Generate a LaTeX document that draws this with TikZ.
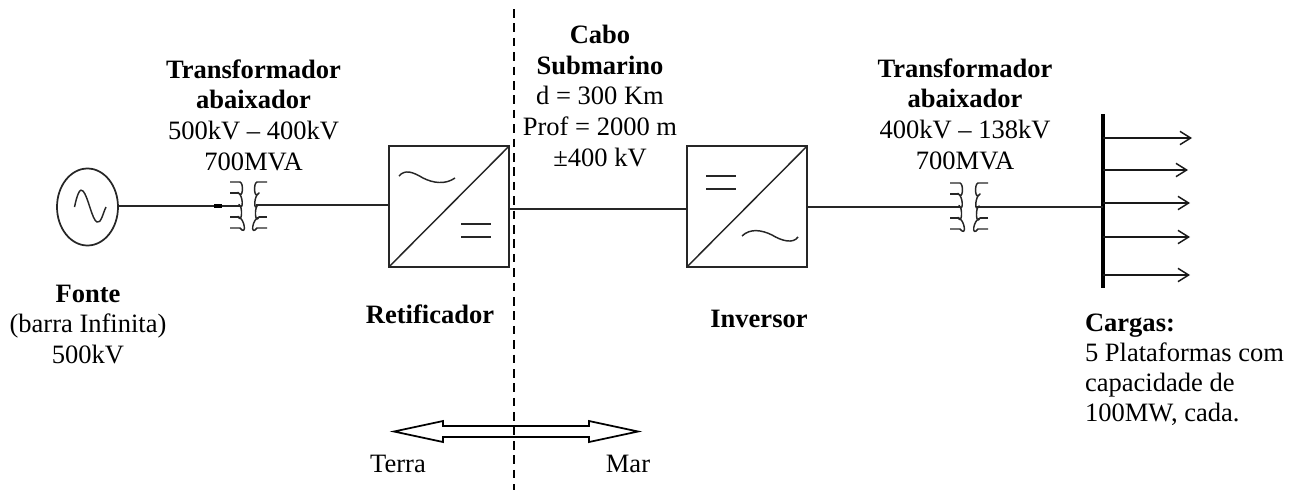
\documentclass[tikz,border=0pt]{standalone}
\usepackage{fontspec}
\setmainfont{Liberation Serif}
\usetikzlibrary{arrows.meta,shapes.geometric}
\tikzset{
  x=0.75pt,y=-0.75pt,
  wire/.style={line width=1.5pt,black!85},
  conv/.style={draw=black!85,line width=1.5pt,minimum width=90pt,minimum height=90.5pt,inner sep=0pt,outer sep=0pt},
  src/.style={draw=black!85,ellipse,line width=1.3pt,minimum width=45.75pt,minimum height=57.75pt,inner sep=0pt,outer sep=0pt},
  lbl/.style={inner sep=0pt,outer sep=0pt,align=center,font=\fontsize{19.9}{23}\selectfont,anchor=base},
  lbll/.style={inner sep=0pt,outer sep=0pt,align=left,font=\fontsize{19.9}{23}\selectfont,anchor=base west},
  load/.style={line width=1.2pt,black!90,-{Straight Barb[length=8pt,width=10pt,line width=1.1pt]}},
  sym/.style={line width=1.1pt,black!85},
  stub/.style={line width=1.5pt,black!85},
}
% primary winding: #1 = outer x, #2 = top y; bulges to the right
\newcommand{\coilL}[2]{%
  \draw[sym,line join=round] (#1,#2) -- ++(10,0)
    .. controls +(4,1) and +(5,8) .. ++(-2,10.5)
    .. controls +(5,2) and +(5,8) .. ++(1,12)
    .. controls +(4,2) and +(4,8) .. ++(-1,12)
    .. controls +(7,2) and +(7,9) .. ++(2,11.5) -- ++(-10,0);
  \draw[stub] (#1,#2+10.5) -- ++(8,0);
  \draw[stub] (#1,#2+34.5) -- ++(8,0);}
% secondary winding: #1 = outer x, #2 = top y; bulges to the left
\newcommand{\coilR}[2]{%
  \draw[sym,line join=round] (#1,#2) -- ++(-10,0)
    .. controls +(-4,1) and +(-5,8) .. ++(2,11)
    .. controls +(-5,2) and +(-5,8) .. ++(-1,12)
    .. controls +(-4,2) and +(-4,8) .. ++(1,12)
    .. controls +(-7,2) and +(-7,9) .. ++(-2,11) -- ++(10,0);
  \draw[stub] (#1,#2+35) -- ++(-8,0);}
\begin{document}
\begin{tikzpicture}
\useasboundingbox (0,0) rectangle (1302,490);
% dashed divider
\coordinate (dtop) at (514,9);
\coordinate (dbot) at (514,490);
\draw[line width=1.5pt,black,dash pattern=on 6.5pt off 4.3pt] (dtop) -- (dbot);
% source
\node[src] (fonte) at (87.5,207) {};
\draw[sym,line join=round] (74.5,207) .. controls (77,195) and (80,187) .. (83,191) .. controls (88,196) and (92,220) .. (97,222) .. controls (101,224) and (103,213) .. (106,207);
% transformer 1
\coordinate (t1in) at (240,206);
\coordinate (t1out) at (256,205);
\coordinate (t1a) at (214,206);
\coordinate (t1b) at (222,206);
\coilL{230}{182}
\coilR{267}{182}
% converters
\node[conv] (ret) at (449,206.5) {};
\node[conv] (inv) at (747,206.5) {};
\draw[sym] (ret.south west) -- (ret.north east);
\draw[sym] (inv.south west) -- (inv.north east);
\draw[sym] (399,176) .. controls (405,169) and (413,172) .. (423,178) .. controls (433,183) and (445,185) .. (455,178);
\draw[sym] (461,224) -- (491,224) (461,237) -- (491,237);
\draw[sym] (706,176) -- (736,176) (706,189) -- (736,189);
\draw[sym] (742,236) .. controls (750,228) and (762,230) .. (772,235) .. controls (782,241) and (793,244) .. (798,237);
% transformer 2
\coordinate (t2in) at (960,207);
\coordinate (t2out) at (976,207);
\coilL{950}{183}
\coilR{988}{183}
% bus
\coordinate (bustop) at (1103,114);
\coordinate (busbot) at (1103,288);
\draw[line width=3.6pt,black] (bustop) -- (busbot);
\coordinate (busin) at (1103,207);
% wires
\draw[wire] (fonte.east |- t1in) -- (t1in);
\draw[line width=2.6pt,black] (t1a) -- (t1b);
\draw[wire] (t1out) -- (ret.west |- t1out);
\draw[wire] (ret.east |- 0,209) -- (inv.west |- 0,209);
\draw[wire] (inv.east |- t2in) -- (t2in);
\draw[wire] (t2out) -- (busin);
% loads
\coordinate (l1) at (1192,138);
\coordinate (l2) at (1188,170);
\coordinate (l3) at (1190,203);
\coordinate (l4) at (1190,237);
\coordinate (l5) at (1190,275);
\foreach \n in {l1,l2,l3,l4,l5}{\draw[load] (bustop |- \n) -- (\n);}
% double arrow
\coordinate (aL) at (394,431.5);
\coordinate (aR) at (638,431.5);
\draw[line width=1.3pt,black,line join=miter,fill=none] (aL) -- (443,421) -- (443,426) -- (589,426) -- (589,421) -- (aR) -- (589,442) -- (589,437) -- (443,437) -- (443,442) -- cycle;
% labels
\node[lbl] (t1la) at (253.5,78) {\textbf{Transformador}};
\node[lbl] (t1lb) at (253.5,108.5) {\textbf{abaixador}};
\node[lbl] (t1lc) at (253.5,139) {500kV – 400kV};
\node[lbl] (t1ld) at (253.5,170) {700MVA};
\node[lbl] (c1) at (600,43) {\textbf{Cabo}};
\node[lbl] (c2) at (600,74) {\textbf{Submarino}};
\node[lbl] (c3) at (600,104.5) {d = 300 Km};
\node[lbl] (c4) at (600,135) {Prof = 2000 m};
\node[lbl] (c5) at (600,166) {±400 kV};
\node[lbl] (t2la) at (965,77) {\textbf{Transformador}};
\node[lbl] (t2lb) at (965,107.5) {\textbf{abaixador}};
\node[lbl] (t2lc) at (965,138) {400kV – 138kV};
\node[lbl] (t2ld) at (965,169) {700MVA};
\node[lbl] (f1) at (88,302) {\textbf{Fonte}};
\node[lbl] (f2) at (88,332) {(barra Infinita)};
\node[lbl] (f3) at (88,363) {500kV};
\node[lbl] (rl) at (430,323) {\textbf{Retificador}};
\node[lbl] (il) at (759,327) {\textbf{Inversor}};
\node[lbl] (tl) at (398,472) {Terra};
\node[lbl] (ml) at (628,472) {Mar};
\node[lbll] (g1) at (1085,331) {\textbf{Cargas:}};
\node[lbll] (g2) at (1085,361) {5 Plataformas com};
\node[lbll] (g3) at (1085,391) {capacidade de};
\node[lbll] (g4) at (1085,421) {100MW, cada.};
\end{tikzpicture}
\end{document}
